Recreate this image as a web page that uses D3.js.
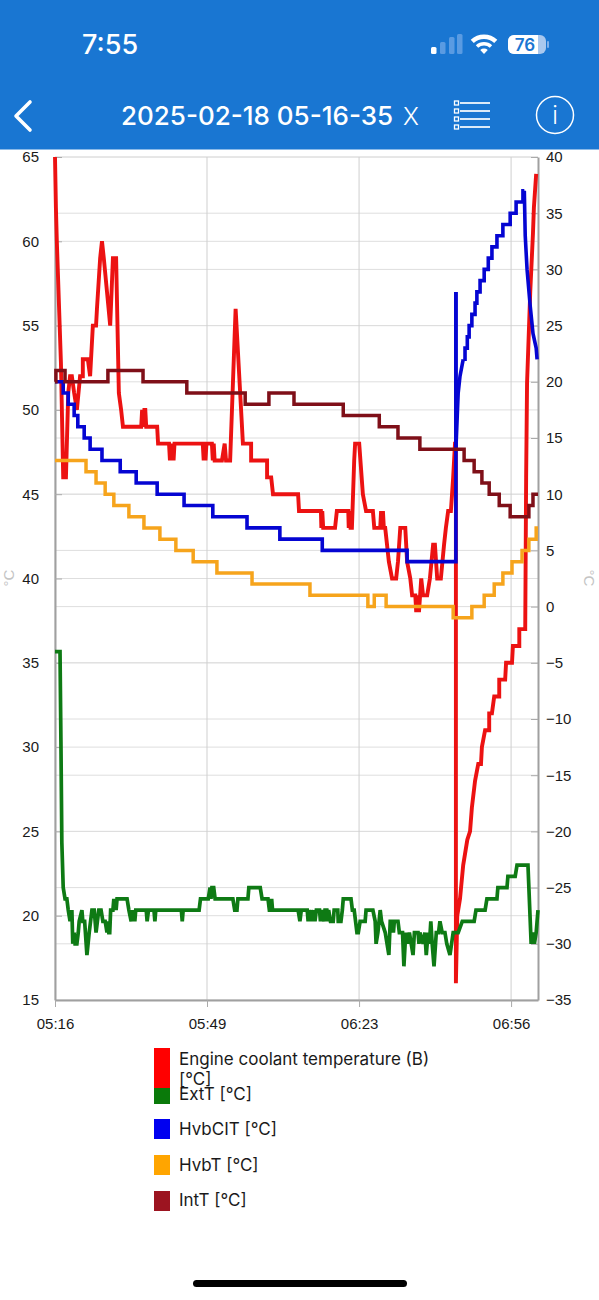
<!DOCTYPE html>
<html><head><meta charset="utf-8">
<script src="https://cdnjs.cloudflare.com/ajax/libs/d3/7.8.5/d3.min.js"></script>
<style>
html,body{margin:0;padding:0;background:#fff;}
svg{display:block;}
text{font-family:"Liberation Sans",Arial,sans-serif;}
</style></head><body>
<svg id="c" width="599" height="1300"></svg>
<script>
// ---- data: [minutes since 05:16, degrees C] ----
const coolant = [[0,65],[0.2,62],[0.4,60],[1.3,52.8],[1.8,46],[2.4,46],[2.9,51],[3.3,52],[3.7,52],[4.2,51],[4.8,50],[5.5,52],[6.1,52],[6.1,53],[7.2,53],[7.7,52],[8.3,55],[9,55],[9.2,56],[9.9,59],[10.3,60],[10.7,59],[12.1,55],[12.7,59],[13.4,59],[14,51],[14.5,50],[14.9,49],[18.9,49],[19.1,50],[19.4,49],[19.6,50],[19.8,50],[20,49],[22.4,49],[22.6,48],[25,48],[25.2,47],[25.4,48],[25.6,47],[25.8,48],[26,47],[26.2,48],[32.4,48],[32.6,47],[32.8,48],[33,47],[33.2,48],[34.4,48],[34.6,47],[34.8,48],[35,47],[36.6,47],[37.2,48],[37.5,47],[38.4,47],[39.6,56],[41.2,48],[43,48],[43,47],[46.5,47],[46.5,46],[47.4,46],[47.8,45],[53.3,45],[53.5,44],[58.3,44],[58.4,43],[58.6,44],[58.8,43],[61.4,43],[61.8,44],[64.3,44],[64.4,43],[64.6,44],[64.8,43],[65.1,43],[65.6,47],[65.8,48],[66.7,48],[67.5,45],[68.2,44],[69.7,44],[70,43],[71.3,43],[71.5,44],[71.7,43],[71.9,44],[72.1,43],[72.4,43],[72.8,42],[73.2,41],[73.9,40],[74.8,40],[75.2,41],[75.7,43],[76.8,43],[77.2,41],[77.9,40],[78.3,39],[79,39],[79.2,38],[79.4,39],[79.5,38],[79.7,39],[79.8,38],[80.3,40],[80.7,39],[81.6,39],[82.2,40],[82.9,42],[83.3,42],[83.8,40],[84.6,40],[85.3,42],[85.7,43],[86.2,44],[86.8,44],[87.3,46],[87.7,48],[87.9,48],[87.9,16],[88.2,20],[88.8,21],[89.5,23],[90.4,24.5],[91,25],[91.4,26.4],[92.1,28],[92.8,29],[93.4,29],[93.6,30],[94.3,31],[95.2,31],[95.2,32],[95.8,32],[96.3,33],[97.4,33],[97.4,34],[98.7,34],[98.9,35],[100.2,35],[100.4,36],[101.8,36],[101.8,37],[103.1,37],[103.3,46],[103.5,51.6],[104.2,57],[104.8,60.5],[105,62],[105.5,64]];
const extT = [[0,-4],[1.1,-4],[1.3,-12],[1.5,-21],[1.8,-25],[2.2,-26],[2.6,-26],[2.9,-27],[3.3,-28],[3.7,-27],[3.9,-30],[4.2,-29],[4.4,-30],[4.8,-30],[5.1,-29],[5.3,-28],[5.9,-27],[6.1,-28],[6.5,-28],[7,-31],[7.5,-29],[8.1,-27],[8.6,-27],[9,-29],[9.6,-27],[10.1,-27],[10.5,-28],[11,-28],[11.4,-29],[11.6,-28],[11.8,-29],[12,-29],[12.2,-27],[12.7,-27],[12.9,-26],[13.1,-27],[13.2,-26],[13.4,-27],[13.6,-26],[15.8,-26],[16.2,-27],[16.7,-28],[17,-27],[17.2,-28],[17.4,-27],[17.5,-28],[17.7,-27],[20,-27],[20.2,-28],[20.5,-27],[21.7,-27],[21.9,-28],[22.1,-27],[27.7,-27],[27.9,-28],[28.1,-27],[31.6,-27],[31.9,-26],[33.6,-26],[34,-25],[34.2,-26],[34.4,-25],[34.8,-25],[35.1,-26],[39,-26],[39.4,-27],[39.9,-27],[40.1,-26],[42.3,-26],[42.5,-25],[45,-25],[45.4,-26],[46.7,-26],[47,-27],[47.4,-27],[47.5,-26],[47.7,-27],[53.3,-27],[53.7,-28],[54,-27],[55.3,-27],[55.5,-28],[55.7,-27],[56,-28],[56.2,-27],[56.5,-28],[56.7,-27],[57,-28],[57.3,-27],[58,-27],[58.2,-28],[58.5,-27],[59,-28],[59.2,-27],[59.6,-27],[59.8,-28],[60,-27],[60.4,-28],[61,-28],[61.2,-27],[62,-27],[62.1,-28],[62.7,-28],[63,-27],[63.2,-26],[64.9,-26],[65.2,-27],[65.6,-27],[66.2,-29],[66.5,-29],[66.9,-28],[68,-28],[68.2,-27],[69.7,-27],[70.2,-28],[70.4,-30],[70.8,-29],[71.3,-27],[71.6,-28],[72.4,-29],[73.2,-31],[73.5,-28],[74,-28],[74.2,-29],[74.4,-28],[75.2,-28],[75.5,-29],[76.2,-29],[76.5,-32],[76.9,-29],[77.3,-30],[77.7,-29],[78.1,-30],[78.5,-31],[78.8,-29],[79.6,-29],[79.8,-30],[80,-29],[80.7,-30],[81.1,-29],[81.4,-31],[81.8,-29],[82.1,-30],[82.4,-28],[82.7,-30],[83.1,-32],[83.6,-29],[84.1,-29],[84.4,-28],[84.9,-29],[85.5,-29],[85.9,-30],[86.6,-31],[87.3,-29],[88.4,-29],[89.3,-28],[91.9,-28],[92.3,-27],[94.3,-27],[94.7,-26],[96.9,-26],[97.1,-25],[99.1,-25],[99.3,-24],[100.9,-24],[101.3,-23],[103.7,-23],[104.4,-30],[104.8,-29],[105.1,-30],[105.5,-29],[105.9,-27]];
// HvbCIT: stepped stretches, plus the two smooth stretches around the jump and the final fall
const hvbCIT = [[0,20],[1.8,19],[2.9,18],[4.2,17],[5,16],[6.4,15],[7.7,14],[10.3,13],[14.3,12],[17.8,11],[22.4,10],[28.3,9],[34.6,8],[42.1,7],[49.3,6],[58.6,5],[77.2,4],[87.9,28]];
const hvbCITRise = [[87.9,28],[87.9,14],[88.2,17],[88.4,19],[88.8,20.5],[89.5,22]];
const hvbCITSteps = [[89.5,22],[89.9,23],[90.4,24],[90.8,25],[91.4,26],[92.1,27],[92.5,28],[93.2,29],[94.1,30],[95,31],[95.8,32],[96.9,33],[98.2,34],[99.8,35],[101.1,36],[102.6,37],[102.9,37]];
const hvbCITFall = [[102.9,37],[103.1,33],[103.5,30],[104.2,26.7],[104.8,24.3],[105.5,23],[105.7,22]];
const hvbT = [[0,13],[6.8,12],[9,11],[11,10],[12.9,9],[16.2,8],[19.5,7],[23,6],[26.5,5],[30.3,4],[35.5,3],[43.2,2],[55.9,1],[68.6,0],[70,1],[72.6,0],[87.3,-1],[91.4,0],[94.1,1],[96.3,2],[98.2,3],[100.2,4],[102.4,5],[103.9,6],[105.5,7],[105.9,7]];
const intT = [[0,20],[0.2,21],[2.2,20],[11.6,21],[19.3,20],[28.9,19],[41.7,18],[46.9,19],[52.4,18],[63.2,17],[71.1,16],[75.2,15],[80,14],[89.7,13],[91.9,12],[93.6,11],[95.2,10],[97.4,9],[99.8,8],[103.9,9],[104.8,10],[105.9,10]];

const timeTicks = [0, 33.33, 66.67, 100];
const timeLabels = ["05:16", "05:49", "06:23", "06:56"];
const leftTicks = [65,60,55,50,45,40,35,30,25,20,15];
const rightTicks = [40,35,30,25,20,15,10,5,0,-5,-10,-15,-20,-25,-30,-35];
const legendLabels = ["Engine coolant temperature (B)", "ExtT [°C]", "HvbCIT [°C]", "HvbT [°C]", "IntT [°C]"];
const legendColors = ["#ff0000", "#0a7a0a", "#0000f0", "#ffa500", "#9c1420"];
const lineColors   = ["#ec1212", "#0e7a14", "#0505d2", "#f6a41c", "#7f0f18"];

// ---- layout ----
const L=55, R=538, T=157, B=1000;
const svg = d3.select("#c");
const x = d3.scaleLinear().domain([0,105.9]).range([L,R]);
const yL = d3.scaleLinear().domain([15,65]).range([B,T]);
const yR = d3.scaleLinear().domain([-35,40]).range([B,T]);

// ---- app header ----
svg.append("rect").attr("width",599).attr("height",149.5).attr("fill","#1976d2");
const W="#fff";
svg.append("text").attr("x",82).attr("y",54).attr("fill",W).style("font-family","Inter").style("font-size","27px").style("font-weight",500).text("7:55");
svg.append("text").attr("x",121).attr("y",125).attr("fill",W).style("font-family","Inter").style("font-size","26px").style("font-weight",500).text("2025-02-18 05-16-35");
svg.append("text").attr("x",403).attr("y",125).attr("fill",W).style("font-family","Inter").style("font-size","24px").style("font-weight",300).text("X");
// signal
[[431,7],[440,12],[449,17],[457,20]].forEach((b,i)=>svg.append("rect").attr("x",b[0]).attr("y",54-b[1]).attr("width",5.5).attr("height",b[1]).attr("rx",1.5).attr("fill",i==0?W:"#5a9be2"));
// wifi
const arc=d3.arc();
[[0,5.5],[8.5,12],[15,19.5]].forEach(r=>svg.append("path").attr("transform","translate(484,54)").attr("fill",W)
  .attr("d",arc({innerRadius:r[0],outerRadius:r[1],startAngle:-0.75,endAngle:0.75,cornerRadius:1})));
// battery
svg.append("rect").attr("x",508).attr("y",35).attr("width",38).attr("height",19).attr("rx",6).attr("fill","#a9c8ee");
svg.append("path").attr("d","M514 35H538V54H514A6 6 0 0 1 508 48V41A6 6 0 0 1 514 35Z").attr("fill",W);
svg.append("rect").attr("x",547).attr("y",41).attr("width",2).attr("height",7).attr("rx",1).attr("fill","#7fb0ea");
svg.append("text").attr("x",525).attr("y",51).attr("text-anchor","middle").attr("fill","#1976d2").style("font-family","Inter").style("font-size","17px").style("font-weight",600).text("76");
// back chevron
svg.append("path").attr("d","M30 102L16 116L30 130").attr("fill","none").attr("stroke",W).attr("stroke-width",3.6).attr("stroke-linecap","round").attr("stroke-linejoin","round");
// list icon
[103,111,119,127].forEach(y2=>{
  svg.append("line").attr("x1",460).attr("x2",490).attr("y1",y2).attr("y2",y2).attr("stroke",W).attr("stroke-width",1.7);
  svg.append("rect").attr("x",454.5).attr("y",y2-2).attr("width",4).attr("height",4).attr("fill","none").attr("stroke",W).attr("stroke-width",1.3);
});
// info icon
svg.append("circle").attr("cx",555).attr("cy",115).attr("r",18.5).attr("fill","none").attr("stroke",W).attr("stroke-width",1.5);
svg.append("text").attr("x",555).attr("y",124).attr("text-anchor","middle").attr("fill",W).style("font-size","24px").style("font-weight",300).style("font-family","Inter").text("i");

// ---- grid ----
const grid = svg.append("g").attr("class","grid");
grid.selectAll("line.h").data(rightTicks.map(yR).concat(leftTicks.map(yL))).join("line").attr("class","h")
  .attr("x1",L).attr("x2",R).attr("y1",d=>d).attr("y2",d=>d).attr("stroke","#dedede").attr("stroke-width",1);
grid.selectAll("line.v").data(timeTicks).join("line").attr("class","v")
  .attr("x1",d=>x(d)).attr("x2",d=>x(d)).attr("y1",T).attr("y2",B).attr("stroke","#cfcfcf").attr("stroke-width",1);

// ---- axes ----
function style(g){
  g.selectAll("text").attr("fill","#1a1a1a").style("font-size","15px").style("font-family","'Liberation Sans',sans-serif");
  g.selectAll(".tick line").attr("stroke","#aaa");
  g.select(".domain").attr("stroke","#a0a0a0").attr("stroke-width",2);
}
svg.append("g").attr("transform",`translate(${L},0)`).call(d3.axisLeft(yL).tickValues(leftTicks).tickSize(-7).tickPadding(16).tickSizeOuter(0)).call(style);
svg.append("g").attr("transform",`translate(${R},0)`).call(d3.axisRight(yR).tickValues(rightTicks).tickSize(-7).tickPadding(8).tickSizeOuter(0)).call(style);
svg.append("g").attr("transform",`translate(0,${B})`).call(d3.axisBottom(x).tickValues(timeTicks).tickFormat((d,i)=>timeLabels[i]).tickSize(7).tickPadding(11).tickSizeOuter(0)).call(style);

svg.append("text").attr("transform","translate(14,578) rotate(-90)").attr("text-anchor","middle").attr("fill","#c4c4c4").style("font-size","15px").text("°C");
svg.append("text").attr("transform","translate(584,578) rotate(90)").attr("text-anchor","middle").attr("fill","#c4c4c4").style("font-size","15px").text("°C");

// ---- series ----
const lineL = d3.line().x(d=>x(d[0])).y(d=>yL(d[1]));
const lineR = d3.line().x(d=>x(d[0])).y(d=>yR(d[1]));
const stepR = d3.line().curve(d3.curveStepAfter).x(d=>x(d[0])).y(d=>yR(d[1]));
const series = [[coolant,lineL,0,3.9],[extT,lineR,1,3.7],[hvbCIT,stepR,2,3.6],[hvbCITRise,lineR,2,3.6],[hvbCITSteps,stepR,2,3.6],[hvbCITFall,lineR,2,3.6],[hvbT,stepR,3,3.5],[intT,stepR,4,3.5]];
svg.append("g").selectAll("path").data(series).join("path")
  .attr("d",d=>d[1](d[0])).attr("fill","none").attr("stroke",d=>lineColors[d[2]]).attr("stroke-width",d=>d[3])
  .attr("stroke-linejoin","miter").attr("stroke-miterlimit",3);

// ---- legend ----
const legendTop = [1048,1088,1119,1155,1191], legendH=[40,16,20,20,20], legendText=[1065,1100,1135,1171,1206];
const lg = svg.append("g");
lg.selectAll("rect").data(legendLabels).join("rect").attr("x",154).attr("width",16)
  .attr("y",(d,i)=>legendTop[i]).attr("height",(d,i)=>legendH[i]).attr("fill",(d,i)=>legendColors[i]);
lg.selectAll("text.l").data(legendLabels).join("text").attr("class","l").attr("x",179)
  .attr("y",(d,i)=>legendText[i]).attr("fill","#1a1a1a").style("font-family","Inter").style("font-size","17px").text(d=>d);
lg.append("text").attr("x",179).attr("y",1085).attr("fill","#1a1a1a").style("font-family","Inter").style("font-size","17px").text("[°C]");

// home indicator
svg.append("rect").attr("x",193).attr("y",1280).attr("width",214).attr("height",7).attr("rx",3.5).attr("fill","#000");
</script></body></html>
